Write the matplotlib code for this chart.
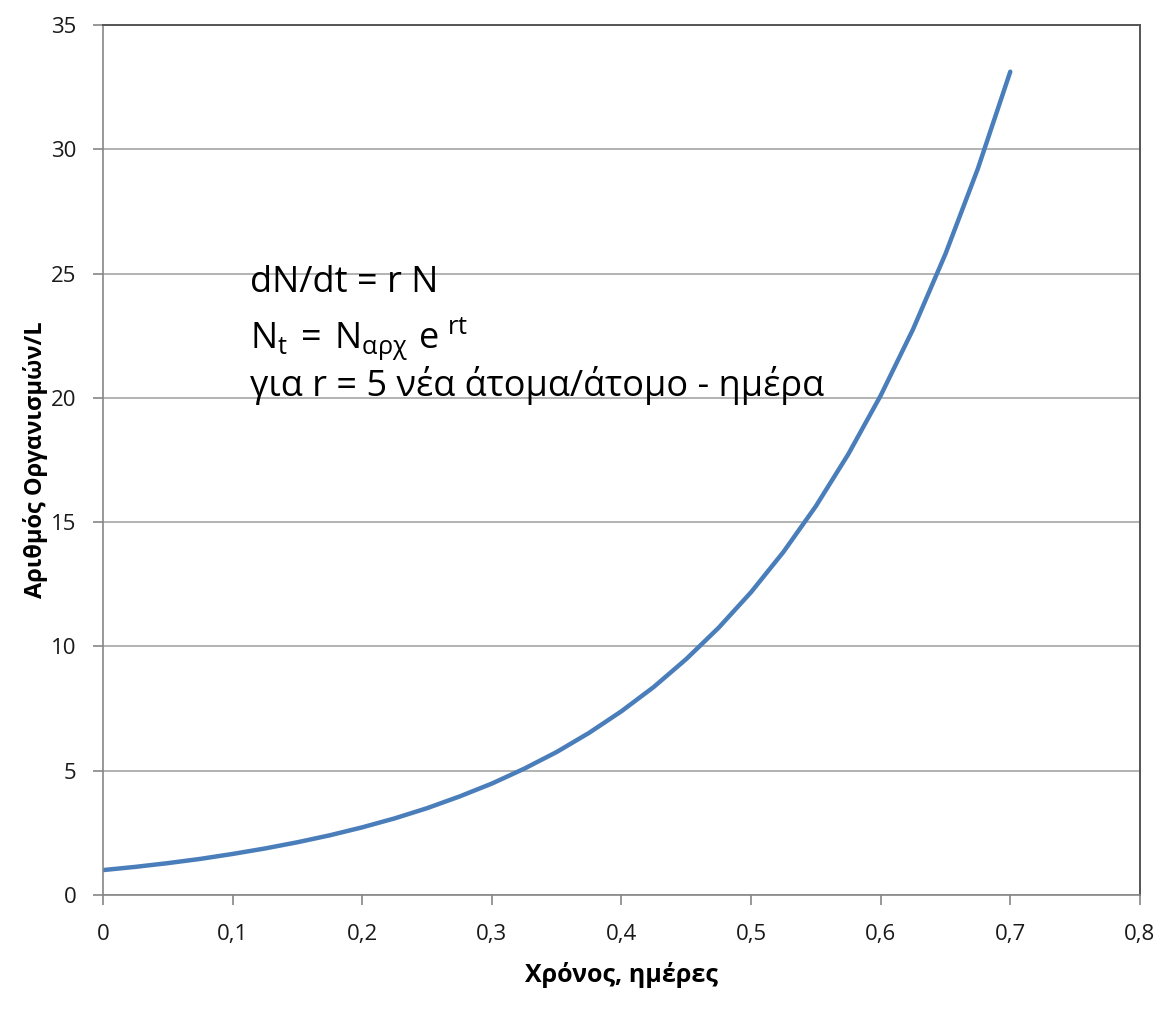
import matplotlib.pyplot as plt
from matplotlib.ticker import FuncFormatter

# Δεδομένα (διαβασμένα από το γράφημα)
xronos = [0, 0.025, 0.05, 0.075, 0.1, 0.125, 0.15, 0.175, 0.2, 0.225, 0.25, 0.275,
          0.3, 0.325, 0.35, 0.375, 0.4, 0.425, 0.45, 0.475, 0.5, 0.525, 0.55,
          0.575, 0.6, 0.625, 0.65, 0.675, 0.7]
organismoi = [1.0, 1.13, 1.28, 1.45, 1.65, 1.87, 2.12, 2.40, 2.72, 3.08, 3.49, 3.96,
              4.48, 5.08, 5.75, 6.52, 7.39, 8.37, 9.49, 10.75, 12.18, 13.80, 15.64,
              17.73, 20.09, 22.76, 25.79, 29.22, 33.12]

x_ticks = [0, 0.1, 0.2, 0.3, 0.4, 0.5, 0.6, 0.7, 0.8]
y_ticks = [0, 5, 10, 15, 20, 25, 30, 35]

plt.rcParams['font.family'] = ['Open Sans', 'DejaVu Sans']
plt.rcParams['mathtext.fontset'] = 'custom'
plt.rcParams['mathtext.rm'] = 'Open Sans'

fig = plt.figure(figsize=(11.69, 10.14), dpi=100)
ax = fig.add_axes([0.0881, 0.1174, 0.887, 0.858])

ax.plot(xronos, organismoi, color='#4a7ebb', linewidth=3.2,
        solid_capstyle='round', solid_joinstyle='round')

ax.set_xlim(0, 0.8)
ax.set_ylim(0, 35)
ax.set_xticks(x_ticks)
ax.set_yticks(y_ticks)

fmt = FuncFormatter(lambda v, p: ('%g' % round(v, 2)).replace('.', ','))
ax.xaxis.set_major_formatter(fmt)
ax.tick_params(axis='both', labelsize=16, colors='#868686', labelcolor='#1a1a1a',
               length=7, width=1.2, direction='out')
ax.tick_params(axis='y', pad=12)
ax.tick_params(axis='x', pad=14)

ax.grid(True, axis='y', color='#a6a6a6', linewidth=1.2)
ax.set_axisbelow(True)

for s in ['left', 'bottom']:
    ax.spines[s].set_color('#868686')
    ax.spines[s].set_linewidth(1.2)
for s in ['top', 'right']:
    ax.spines[s].set_color('#555555')
    ax.spines[s].set_linewidth(1.4)

ax.set_xlabel('Χρόνος, ημέρες', fontsize=18, fontweight='bold', labelpad=12)
ax.set_ylabel('Αριθμός Οργανισμών/L', fontsize=17, fontweight='bold', labelpad=2)

# κείμενο με τις εξισώσεις
ax.text(0.142, 0.703, 'dN/dt = r N', transform=ax.transAxes, fontsize=26, va='center')
ax.text(0.142, 0.638, r'$\mathregular{N_t\,=\,N_{αρχ}\ e^{\ rt}}$', transform=ax.transAxes,
        fontsize=26, va='center')
ax.text(0.142, 0.586, 'για r = 5 νέα άτομα/άτομο - ημέρα', transform=ax.transAxes,
        fontsize=26, va='center')

fig.savefig('out.png', dpi=100)
